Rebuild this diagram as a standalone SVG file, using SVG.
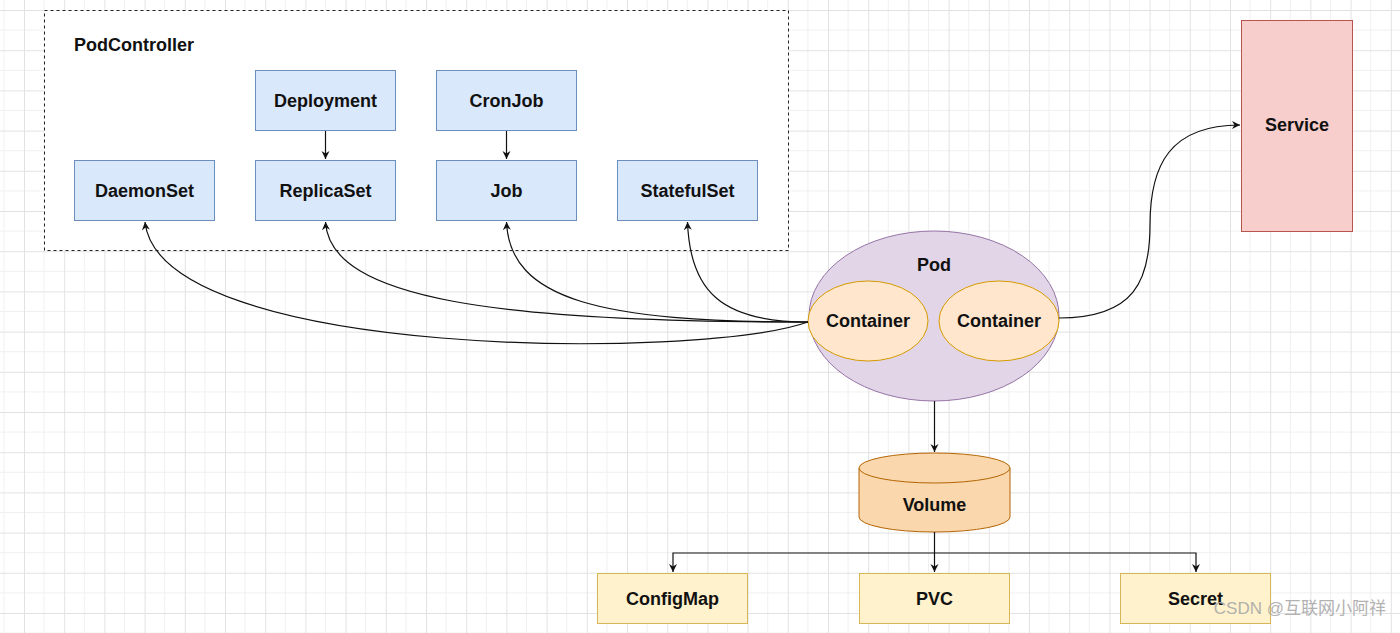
<svg xmlns="http://www.w3.org/2000/svg" width="1400" height="633" viewBox="0 0 1400 633">
<style>
.t{font-family:"Liberation Sans",Arial,sans-serif;font-weight:bold;font-size:18px;fill:#111;text-anchor:middle;dominant-baseline:central}
.blue{fill:#dae8fc;stroke:#6c8ebf;stroke-width:1}
.yel{fill:#fff2cc;stroke:#d6b656;stroke-width:1}
.cont{fill:#ffe6cc;stroke:#d79b00;stroke-width:1}
.e{fill:none;stroke:#111;stroke-width:1.2}
</style>
<defs>
<pattern id="g" patternUnits="userSpaceOnUse" x="24" y="10" width="40.2" height="40.2">
<path d="M20.1 0V40.2M0 20.1H40.2" stroke="#f0f0f0" stroke-width="1" fill="none"/>
<path d="M0.5 0V40.2M0 0.5H40.2" stroke="#e2e2e2" stroke-width="1" fill="none"/>
</pattern>
<marker id="a" markerWidth="10" markerHeight="10" refX="9" refY="5" orient="auto" markerUnits="userSpaceOnUse">
<path d="M1 1L9 5L1 9L3.5 5Z" fill="#111"/>
</marker>
</defs>
<rect width="1400" height="633" fill="#fff"/>
<rect width="1400" height="633" fill="url(#g)"/>

<g id="podcontroller">
<rect x="44.5" y="10.5" width="744" height="240" fill="#fff" stroke="#222" stroke-width="1" stroke-dasharray="3 3"/>
<text x="74" y="45" class="t" style="text-anchor:start">PodController</text>
</g>
<g id="deployment"><rect class="blue" x="255.5" y="70.5" width="140" height="60"/><text class="t" x="325.5" y="100.5">Deployment</text></g>
<g id="cronjob"><rect class="blue" x="436.5" y="70.5" width="140" height="60"/><text class="t" x="506.5" y="100.5">CronJob</text></g>
<g id="daemonset"><rect class="blue" x="74.5" y="160.5" width="140" height="60"/><text class="t" x="144.5" y="190.5">DaemonSet</text></g>
<g id="replicaset"><rect class="blue" x="255.5" y="160.5" width="140" height="60"/><text class="t" x="325.5" y="190.5">ReplicaSet</text></g>
<g id="job"><rect class="blue" x="436.5" y="160.5" width="140" height="60"/><text class="t" x="506.5" y="190.5">Job</text></g>
<g id="statefulset"><rect class="blue" x="617.5" y="160.5" width="140" height="60"/><text class="t" x="687.5" y="190.5">StatefulSet</text></g>

<g id="service"><rect x="1241.5" y="20.5" width="111" height="211" fill="#f8cecc" stroke="#b85450" stroke-width="1"/><text class="t" x="1297" y="125">Service</text></g>

<g id="pod">
<ellipse cx="934" cy="316" rx="125" ry="85" fill="#e1d5e7" stroke="#9673a6" stroke-width="1"/>
<text class="t" x="934" y="265">Pod</text>
</g>
<g id="container1"><ellipse class="cont" cx="868" cy="321" rx="60" ry="40"/><text class="t" x="868" y="321">Container</text></g>
<g id="container2"><ellipse class="cont" cx="999" cy="321" rx="60" ry="40"/><text class="t" x="999" y="321">Container</text></g>

<g id="volume">
<path d="M859 468V517A75.5 15 0 0 0 1010 517V468" fill="#fad7ac" stroke="#b46504" stroke-width="1"/>
<ellipse cx="934.5" cy="468" rx="75.5" ry="15" fill="#fad7ac" stroke="#b46504" stroke-width="1"/>
<text class="t" x="934.5" y="505">Volume</text>
</g>

<g id="configmap"><rect class="yel" x="597.5" y="573.5" width="150" height="50"/><text class="t" x="672.5" y="598.5">ConfigMap</text></g>
<g id="pvc"><rect class="yel" x="859.5" y="573.5" width="150" height="50"/><text class="t" x="934.5" y="598.5">PVC</text></g>
<g id="secret"><rect class="yel" x="1120.5" y="573.5" width="150" height="50"/><text class="t" x="1195.5" y="598.5">Secret</text></g>

<g id="connectors">
<path class="e" d="M325.5 131V159" marker-end="url(#a)"/>
<path class="e" d="M506.5 131V159" marker-end="url(#a)"/>
<path class="e" d="M808 322C700 360 160 360 145 222" marker-end="url(#a)"/>
<path class="e" d="M808 322C500 322 330 300 325.5 222" marker-end="url(#a)"/>
<path class="e" d="M808 322C600 322 510 300 506.5 222" marker-end="url(#a)"/>
<path class="e" d="M808 322C720 322 690 290 687.5 222" marker-end="url(#a)"/>
<path class="e" d="M1059 318C1135 318 1150 280 1150 225C1150 165 1170 125 1240 125" marker-end="url(#a)"/>
<path class="e" d="M934.5 401V452" marker-end="url(#a)"/>
<path class="e" d="M934.5 532V572" marker-end="url(#a)"/>
<path class="e" d="M934.5 553H673V572" marker-end="url(#a)"/>
<path class="e" d="M934.5 553H1196V572" marker-end="url(#a)"/>
</g>
<text x="1386" y="614" style="font-family:'Liberation Sans','Noto Sans CJK SC',sans-serif;font-size:17px;fill:#aaa;text-anchor:end;opacity:0.9">CSDN @互联网小阿祥</text>
</svg>
